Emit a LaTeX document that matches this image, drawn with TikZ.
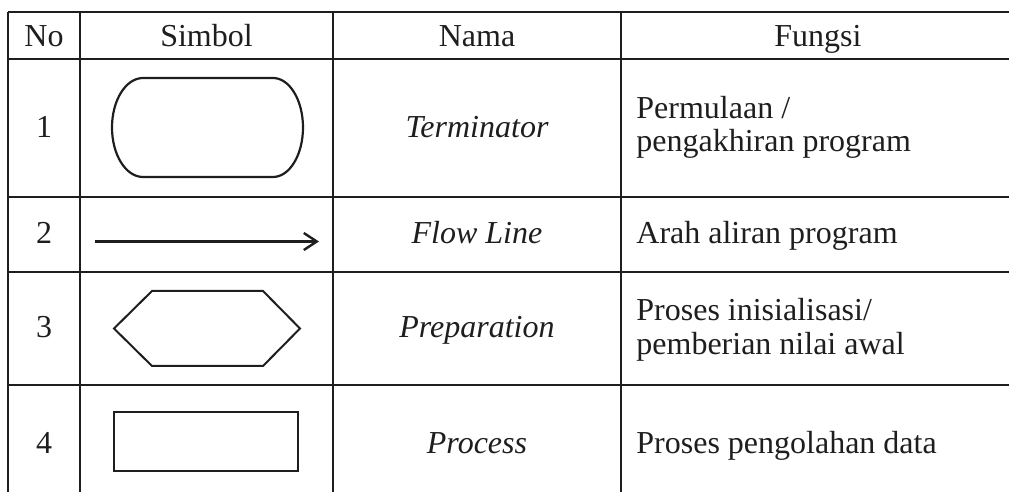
\documentclass[tikz,border=0pt]{standalone}
\usepackage{fontspec}
\setmainfont{Liberation Serif}
\usetikzlibrary{arrows.meta}
\definecolor{ink}{HTML}{1E1E1E}
\begin{document}
\begin{tikzpicture}[x=0.5pt, y=-0.5pt, line join=miter,
  every node/.style={font=\fontsize{16pt}{16.5pt}\selectfont, text=ink, inner sep=0pt},
  mid/.style={anchor=base},
  lefttext/.style={anchor=base west},
  grid/.style={draw=ink, line width=1pt},
  symbol/.style={draw=ink, line width=1pt}]
  \useasboundingbox (0,0) rectangle (1009,492);

  % Table rules
  \foreach \y in {12,59,197,272,385}
    \draw[grid] (7.5,\y) -- (1009,\y);
  \foreach \x in {8,80,333,620.5}
    \draw[grid] (\x,12) -- (\x,492);

  % Header
  \node[mid] (hNo) at (44,47) {No};
  \node[mid] (hSimbol) at (206.5,47) {Simbol};
  \node[mid] (hNama) at (477,47) {Nama};
  \node[mid] (hFungsi) at (818,47) {Fungsi};

  % Numbers
  \node[mid] (no1) at (44,138) {1};
  \node[mid] (no2) at (44,244) {2};
  \node[mid] (no3) at (44,338) {3};
  \node[mid] (no4) at (44,453) {4};

  % Terminator symbol
  \draw[symbol, line width=1.1pt] (143,78) -- (273,78)
    arc[start angle=90, end angle=-90, x radius=15pt, y radius=24.75pt]
    -- (143,177)
    arc[start angle=270, end angle=90, x radius=15.5pt, y radius=24.75pt]
    -- cycle;

  % Flow line symbol
  \coordinate (flowS) at (95,241.5);
  \coordinate (flowE) at (319,241.5);
  \draw[symbol, line width=1.2pt, -{Straight Barb[length=6.5pt, width=8.5pt]}] (flowS) -- (flowE);

  % Preparation symbol
  \coordinate (prepL) at (114,328.5);
  \coordinate (prepTL) at (152,291);
  \coordinate (prepTR) at (263,291);
  \coordinate (prepR) at (300,328.5);
  \coordinate (prepBR) at (263,366);
  \coordinate (prepBL) at (152,366);
  \draw[symbol] (prepL) -- (prepTL) -- (prepTR) -- (prepR) -- (prepBR) -- (prepBL) -- cycle;

  % Process symbol
  \draw[symbol] (114,412) rectangle (298,471);

  % Names
  \node[mid, font=\fontsize{16pt}{16.5pt}\selectfont\itshape] (nTerm) at (477,138) {Terminator};
  \node[mid, font=\fontsize{16pt}{16.5pt}\selectfont\itshape] (nFlow) at (477,244) {Flow Line};
  \node[mid, font=\fontsize{16pt}{16.5pt}\selectfont\itshape] (nPrep) at (477,338) {Preparation};
  \node[mid, font=\fontsize{16pt}{16.5pt}\selectfont\itshape] (nProc) at (477,453) {Process};

  % Functions
  \node[lefttext] (fTermA) at (636,119) {Permulaan /};
  \node[lefttext] (fTermB) at (636,152) {pengakhiran program};
  \node[lefttext] (fFlow) at (636,244) {Arah aliran program};
  \node[lefttext] (fPrepA) at (636,321) {Proses inisialisasi/};
  \node[lefttext] (fPrepB) at (636,355) {pemberian nilai awal};
  \node[lefttext] (fProc) at (636,453) {Proses pengolahan data};
\end{tikzpicture}
\end{document}
